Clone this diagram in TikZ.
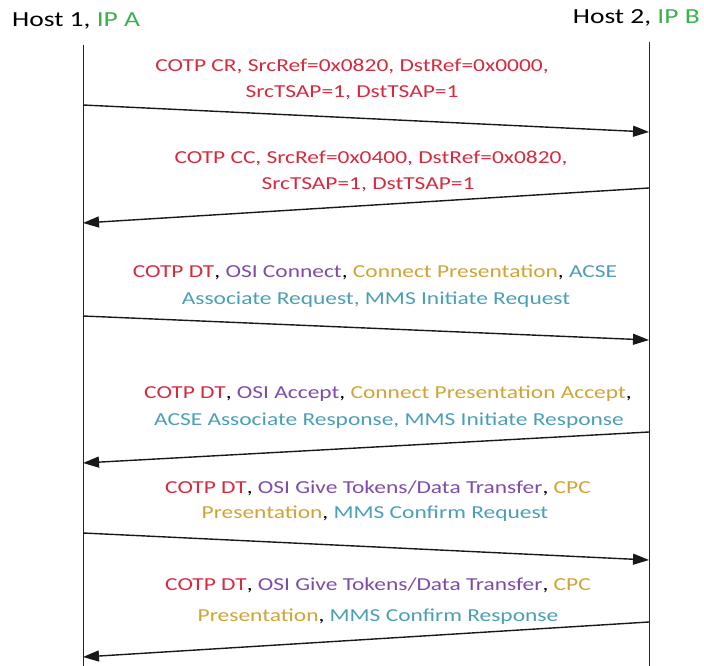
\documentclass[tikz,border=0pt]{standalone}
\usepackage{fontspec}
\setmainfont{Carlito}[FakeStretch=1.28]
\usetikzlibrary{arrows.meta}
\definecolor{cotp}{HTML}{D62A3E}
\definecolor{osi}{HTML}{7E4CA8}
\definecolor{pres}{HTML}{CFA436}
\definecolor{acse}{HTML}{4A9FB6}
\definecolor{ipc}{HTML}{3DB04E}
\newcommand{\Cc}[1]{\textcolor{cotp}{#1}}
\newcommand{\Co}[1]{\textcolor{osi}{#1}}
\newcommand{\Cp}[1]{\textcolor{pres}{#1}}
\newcommand{\Ca}[1]{\textcolor{acse}{#1}}
\begin{document}
\begin{tikzpicture}[x=1pt,y=-1pt,
  lifeline/.style={line width=1pt,draw=black!85},
  msg/.style={line width=1.4pt,draw=black!90,-{Triangle[length=16pt,width=11pt]}},
  lbl/.style={inner sep=0pt,anchor=center,font=\fontsize{18.3}{20}\selectfont},
  host/.style={inner sep=0pt,font=\fontsize{21.5}{24}\selectfont}]
\useasboundingbox (0,0) rectangle (704,666);
% hosts
\node[host,anchor=west] (h1) at (12,21) {Host 1, \textcolor{ipc}{IP A}};
\node[host,anchor=east] (h2) at (700,18) {Host 2, \textcolor{ipc}{IP B}};
% lifelines
\coordinate (L1top) at (83,45);
\coordinate (L1bot) at (83,666);
\coordinate (L2top) at (649,42);
\coordinate (L2bot) at (649,666);
\draw[lifeline] (L1top) -- (L1bot);
\draw[lifeline] (L2top) -- (L2bot);
% message end points on the lifelines
\coordinate (m1s) at (83,105);  \coordinate (m1e) at (649,132);
\coordinate (m2s) at (649,188); \coordinate (m2e) at (83,223);
\coordinate (m3s) at (83,316);  \coordinate (m3e) at (649,340);
\coordinate (m4s) at (649,432); \coordinate (m4e) at (83,463);
\coordinate (m5s) at (83,533);  \coordinate (m5e) at (649,560);
\coordinate (m6s) at (649,622); \coordinate (m6e) at (83,657);
\draw[msg] (m1s) -- (m1e);
\draw[msg] (m2s) -- (m2e);
\draw[msg] (m3s) -- (m3e);
\draw[msg] (m4s) -- (m4e);
\draw[msg] (m5s) -- (m5e);
\draw[msg] (m6s) -- (m6e);
% labels
\node[lbl] (t1a) at (352,66) {\Cc{COTP CR, SrcRef=0x0820, DstRef=0x0000,}};
\node[lbl] (t1b) at (352,93) {\Cc{SrcTSAP=1, DstTSAP=1}};
\node[lbl] (t2a) at (371,158) {\Cc{COTP CC, SrcRef=0x0400, DstRef=0x0820,}};
\node[lbl] (t2b) at (368,185) {\Cc{SrcTSAP=1, DstTSAP=1}};
\node[lbl] (t3a) at (375,272) {\Cc{COTP DT}, \Co{OSI Connect}, \Cp{Connect Presentation}, \Ca{ACSE}};
\node[lbl] (t3b) at (376,300) {\Ca{Associate Request, MMS Initiate Request}};
\node[lbl] (t4a) at (388,394) {\Cc{COTP DT}, \Co{OSI Accept}, \Cp{Connect Presentation Accept},};
\node[lbl] (t4b) at (389,421) {\Ca{ACSE Associate Response, MMS Initiate Response}};
\node[lbl] (t5a) at (378,488) {\Cc{COTP DT}, \Co{OSI Give Tokens/Data Transfer}, \Cp{CPC}};
\node[lbl] (t5b) at (375,514) {\Cp{Presentation}, \Ca{MMS Confirm Request}};
\node[lbl] (t6a) at (378,585) {\Cc{COTP DT}, \Co{OSI Give Tokens/Data Transfer}, \Cp{CPC}};
\node[lbl] (t6b) at (378,617) {\Cp{Presentation}, \Ca{MMS Confirm Response}};
\end{tikzpicture}
\end{document}
